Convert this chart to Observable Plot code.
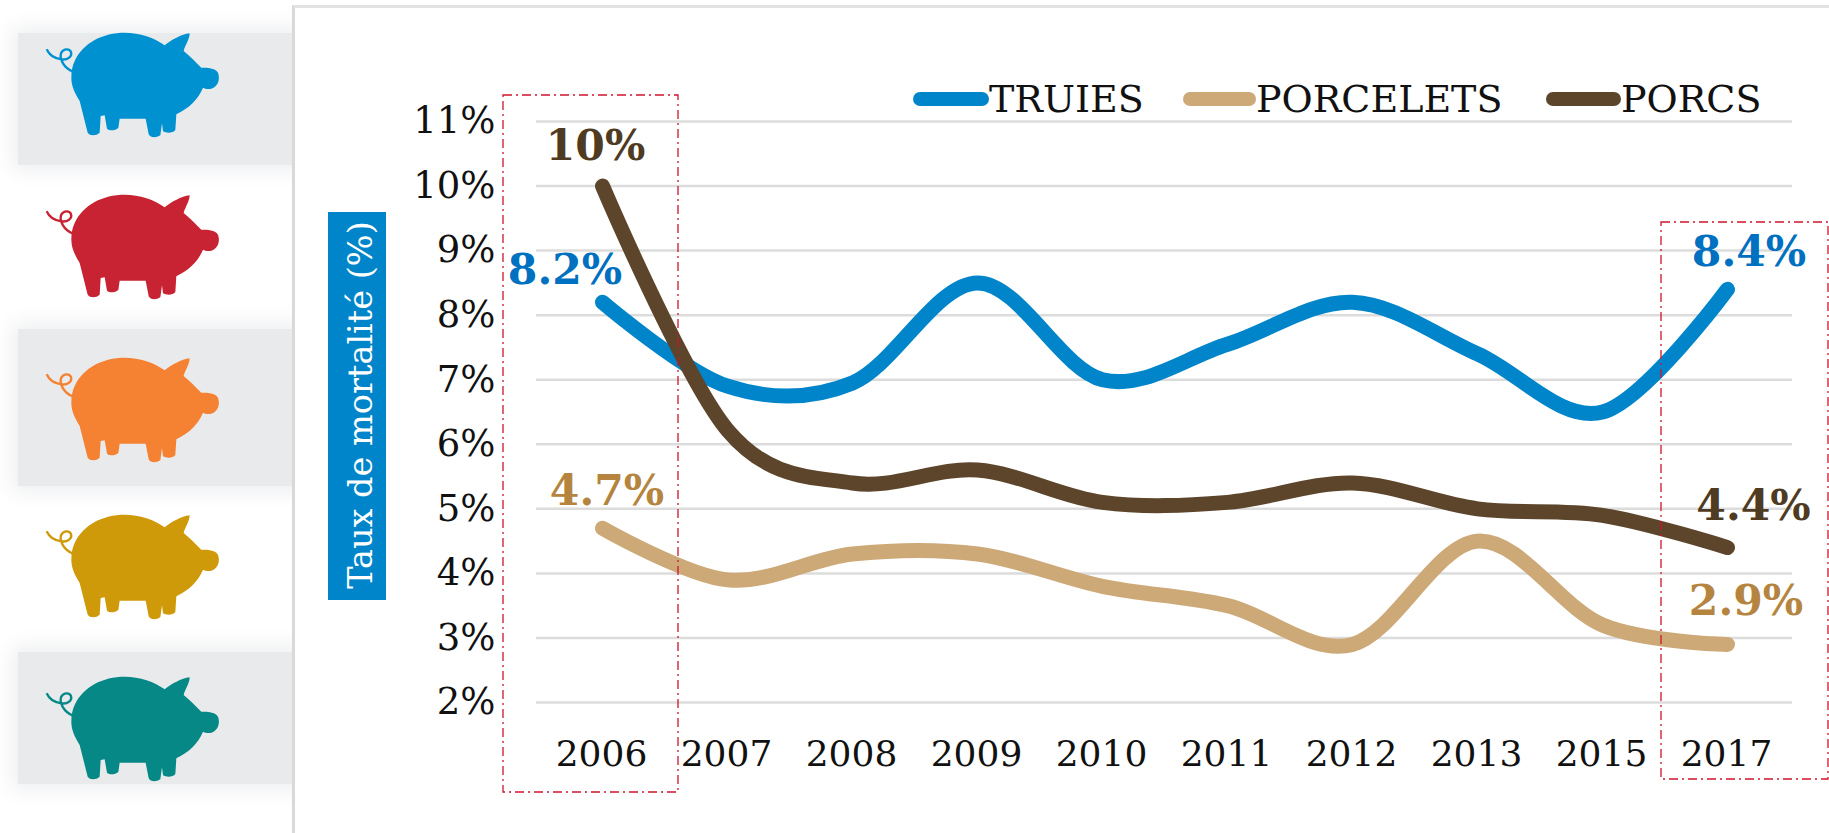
<!DOCTYPE html>
<html lang="fr"><head><meta charset="utf-8">
<script src="https://cdn.jsdelivr.net/npm/d3@7"></script>
<script src="https://cdn.jsdelivr.net/npm/@observablehq/plot@0.6"></script>
<style>
html,body{margin:0;padding:0;background:#fff;overflow:hidden}
#page{position:relative;width:1829px;height:833px;overflow:hidden;font-family:"DejaVu Serif",serif}
#page>svg,#chart svg{position:absolute;left:0;top:0}
.band{position:absolute;left:18px;width:290px;background:#e9eaec;box-shadow:0 0 20px 6px #eeeff1}
.cover{position:absolute;left:292px;top:5px;width:1537px;height:828px;background:#fff;border-left:3px solid #d9d9d9;border-top:3px solid #e2e2e2;box-sizing:border-box}
.leg{position:absolute;font-size:38px;line-height:44px;color:#111;white-space:nowrap}
.sw{position:absolute;height:14px;border-radius:7px}
#ytitle{position:absolute;left:328px;top:212px;width:58px;height:388px;background:#0085ca}
#ytitle span{position:absolute;left:32px;top:193px;transform:translate(-50%,-50%) rotate(-90deg);white-space:nowrap;color:#fff;font-size:33.5px}
</style></head><body><div id="page"></div>
<script>
const years = ["2006","2007","2008","2009","2010","2011","2012","2013","2015","2017"];
const truies = [8.2,6.9,6.95,8.5,7.0,7.55,8.2,7.4,6.5,8.4];
const porcelets = [4.7,3.9,4.3,4.3,3.8,3.5,2.9,4.5,3.2,2.9];
const porcs = [10,6.22,5.4,5.6,5.1,5.1,5.4,5.0,4.9,4.4];
const yTicks = [2,3,4,5,6,7,8,9,10,11];
const seriesNames = ["TRUIES","PORCELETS","PORCS"];
const seriesColors = ["#0085ca","#cda977","#5c452b"];
const labelColors = ["#0070c0","#b5853f","#4f3b22"];
const pigColors = ["#0091d0","#c82333","#f58233","#cf9a0a","#058886"];
const axisFont = "DejaVu Serif";

const page = document.getElementById("page");

// side panel
[[33,132],[329,157],[652,132]].forEach(([t,h])=>{
  const b=document.createElement("div");b.className="band";b.style.top=t+"px";b.style.height=h+"px";page.appendChild(b);
});
const cover=document.createElement("div");cover.className="cover";page.appendChild(cover);

// pigs
const pigTops=[33,195,358,515,677];
const ns="http://www.w3.org/2000/svg";
const pigBody="M225 185C250 130 310 100 375 100C420 100 465 115 495 138C515 122 545 105 570 102C570 120 555 140 552 155C570 170 590 190 605 205C625 205 645 205 655 220C662 240 655 262 635 268C625 270 615 268 610 265C595 300 570 325 530 345L527 392C520 402 500 402 490 396L487 372L482 408C470 416 452 416 447 405L438 358L360 358L356 386C345 395 330 395 322 388L315 348L303 350L300 400C290 410 270 410 264 400L240 305C225 280 215 260 215 235C215 215 218 200 225 185Z";
const pigTail="M141 150C150 170 165 178 185 180C205 183 218 170 214 158C208 146 190 148 184 162C180 178 190 205 222 218";
pigColors.forEach((c,i)=>{
  const s=document.createElementNS(ns,"svg");
  s.setAttribute("width",190);s.setAttribute("height",115);
  s.setAttribute("viewBox","130 95 570 345");
  s.style.cssText=`position:absolute;left:43px;top:${pigTops[i]-2}px`;
  s.innerHTML=`<path d="${pigBody}" fill="${c}"/><path d="${pigTail}" fill="none" stroke="${c}" stroke-width="7"/>`;
  page.appendChild(s);
});

// chart
const labelMark=(arr,idx,txt,color,dx,dy)=>Plot.text([txt],{
  x:()=>years[idx], y:()=>arr[idx], text:d=>d, fill:color, dx, dy,
  fontSize:42.5, fontWeight:"bold", fontFamily:axisFont
});
const lineMark=(arr,color)=>Plot.line(years,{x:d=>d,y:(d,i)=>arr[i],stroke:color,strokeWidth:15,
  curve:"cardinal",tension:0,strokeLinecap:"round",strokeLinejoin:"round"});

const chart = Plot.plot({
  width:1829,height:833,
  marginLeft:536,marginRight:37,marginTop:121,marginBottom:131,
  style:{fontFamily:axisFont,background:"transparent",overflow:"visible"},
  x:{type:"point",domain:years,padding:0.5,label:null},
  y:{domain:[2,11],label:null},
  marks:[
    Plot.ruleY(yTicks,{stroke:"#dcdcdc",strokeWidth:2.5}),
    Plot.axisY({ticks:yTicks,tickSize:0,tickPadding:41,tickFormat:d=>d+"%",fontSize:37,fill:"#111",label:null,fontFamily:axisFont}),
    Plot.axisX({domain:years,tickSize:0,tickPadding:38,fontSize:36,fill:"#111",label:null,fontFamily:axisFont,dx:-1}),
    lineMark(truies,seriesColors[0]),
    lineMark(porcelets,seriesColors[1]),
    lineMark(porcs,seriesColors[2]),
    labelMark(porcs,0,"10%",labelColors[2],-7,-40),
    labelMark(truies,0,"8.2%",labelColors[0],-37.5,-32),
    labelMark(porcelets,0,"4.7%",labelColors[1],4.5,-37),
    labelMark(truies,9,"8.4%",labelColors[0],21.5,-37),
    labelMark(porcs,9,"4.4%",labelColors[2],26,-41),
    labelMark(porcelets,9,"2.9%",labelColors[1],18.5,-43)
  ]
});
const holder=document.createElement("div");holder.id="chart";holder.style.cssText="position:absolute;left:0;top:0;width:1829px;height:833px";
holder.appendChild(chart);page.appendChild(holder);

// y title
const yt=document.createElement("div");yt.id="ytitle";yt.innerHTML="<span>Taux de mortalité (%)</span>";page.appendChild(yt);

// legend
[[913,989],[1183,1256],[1546,1621]].forEach(([a,b],i)=>{
  const s=document.createElement("div");s.className="sw";
  s.style.cssText=`left:${a}px;width:${b-a}px;top:92px;background:${seriesColors[i]}`;page.appendChild(s);
  const t=document.createElement("div");t.className="leg";t.textContent=seriesNames[i];
  t.style.cssText=`left:${b}px;top:77px`;page.appendChild(t);
});

// highlight boxes
const o=document.createElementNS(ns,"svg");o.setAttribute("width",1829);o.setAttribute("height",833);o.style.pointerEvents="none";
o.innerHTML=[[503,95,175,697],[1661,222,167,557]].map(([x,y,w,h])=>
 `<rect x="${x}" y="${y}" width="${w}" height="${h}" fill="none" stroke="#d0142c" stroke-width="1.3" stroke-dasharray="9 4 2 4"/>`).join("");
page.appendChild(o);
</script></body></html>
